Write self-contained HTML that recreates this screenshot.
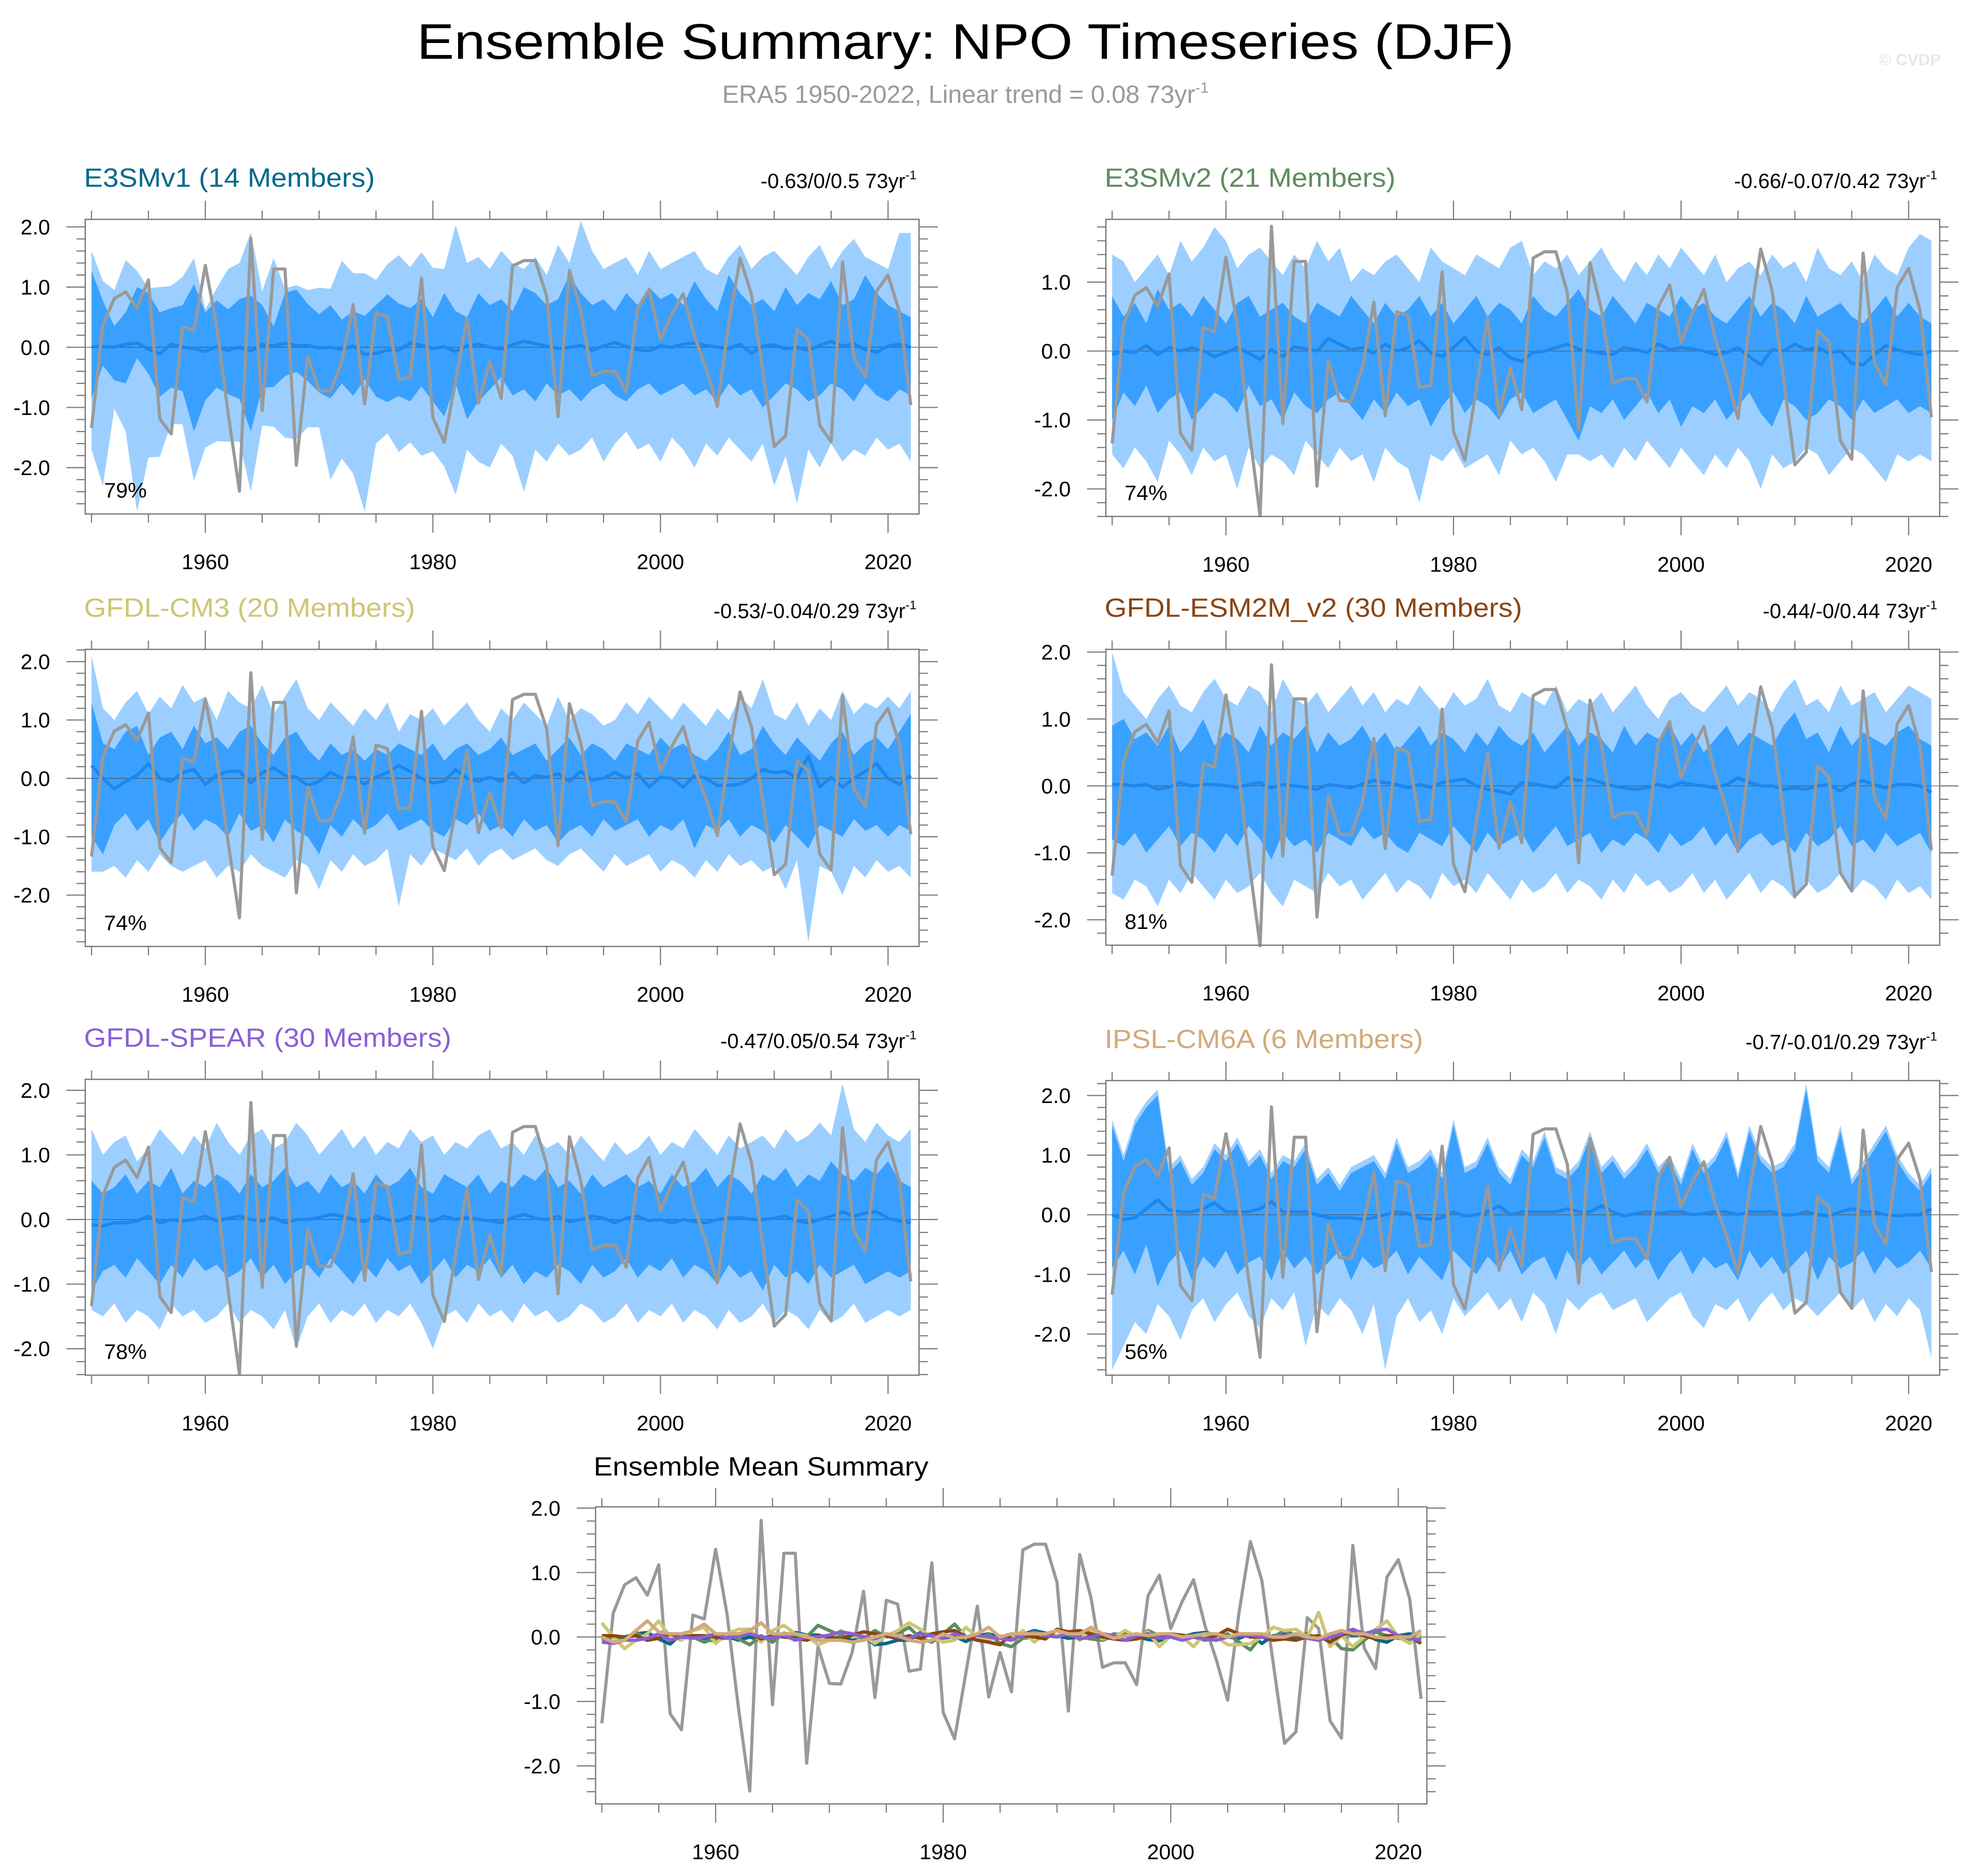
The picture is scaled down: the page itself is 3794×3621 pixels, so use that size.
<!DOCTYPE html>
<html><head><meta charset="utf-8"><style>
html,body{margin:0;padding:0;background:#fff}
svg{display:block}
text{font-family:"Liberation Sans",Arial,sans-serif}
</style></head><body>
<svg id="fig" xmlns="http://www.w3.org/2000/svg" width="3794" height="3621" viewBox="0 0 1568 1496.5">
<rect x="0" y="0" width="1568" height="1496.5" fill="#fff"/>
<text x="770" y="47" font-size="40" text-anchor="middle" textLength="875" lengthAdjust="spacingAndGlyphs">Ensemble Summary: NPO Timeseries (DJF)</text>
<text x="770" y="82" font-size="20" fill="#999" text-anchor="middle">ERA5 1950-2022, Linear trend = 0.08 73yr<tspan dy="-8" font-size="12">-1</tspan></text>
<text x="1548" y="52" font-size="13" fill="#e8e8e8" text-anchor="end" font-weight="bold">© CVDP</text>
<g id="plots"></g>
</svg>
<script>
const years = []; for (let y = 1950; y <= 2022; y++) years.push(y);
const era5 = [-1.34,0.37,0.81,0.92,0.65,1.12,-1.19,-1.44,0.34,0.28,1.36,0.36,-1.09,-2.39,1.81,-1.05,1.30,1.30,-1.96,-0.15,-0.72,-0.73,-0.24,0.71,-0.94,0.57,0.51,-0.53,-0.50,1.15,-1.17,-1.58,-0.55,0.48,-0.93,-0.24,-0.85,1.35,1.44,1.44,0.85,-1.15,1.28,0.60,-0.47,-0.40,-0.40,-0.74,0.64,0.96,0.13,0.55,0.89,0.18,-0.35,-0.98,0.38,1.48,0.88,-0.40,-1.65,-1.47,0.30,0.13,-1.30,-1.57,1.42,-0.17,-0.49,0.93,1.20,0.59,-0.96];

const e3v1Hi2 = [1.6,1.1,0.95,1.45,1.27,0.98,1.0,1.02,1.17,1.48,0.63,0.98,1.3,1.4,1.91,0.93,1.48,0.98,1.03,0.95,0.99,0.97,1.44,1.23,1.23,1.12,1.38,1.53,1.33,1.58,1.32,1.3,2.03,1.4,1.5,1.3,1.6,1.4,1.3,1.5,1.2,1.7,1.4,2.1,1.6,1.3,1.4,1.5,1.2,1.6,1.3,1.4,1.5,1.6,1.3,1.2,1.5,1.7,1.3,1.5,1.6,1.4,1.2,1.5,1.7,1.3,1.6,1.8,1.5,1.4,1.3,1.9,1.9];
const e3v1Hi1 = [1.27,0.77,0.35,0.58,1.0,0.9,0.58,0.65,0.7,1.05,0.58,0.78,0.63,0.8,0.86,0.7,0.35,0.9,0.96,0.72,0.55,0.7,0.46,0.6,0.52,0.7,0.88,0.73,0.65,0.8,0.5,0.9,0.6,0.5,0.9,0.7,0.8,0.6,1.0,0.9,0.7,0.8,1.2,0.9,0.7,0.8,0.6,0.9,0.7,1.0,0.8,0.9,0.7,1.1,0.8,0.6,1.2,0.9,0.7,0.8,0.6,1.0,0.7,0.9,0.8,1.1,0.7,0.8,1.2,0.9,0.7,0.6,0.5];
const e3v1Lo1 = [-0.85,-0.3,-0.55,-0.6,-0.18,-0.44,-0.82,-0.67,-0.73,-1.4,-0.88,-0.67,-0.78,-0.86,-1.4,-0.67,-0.66,-0.48,-0.41,-0.56,-0.75,-0.85,-0.6,-0.81,-0.53,-0.82,-0.91,-0.81,-0.9,-0.65,-0.9,-1.15,-0.6,-1.2,-0.9,-0.7,-0.5,-0.8,-0.7,-0.9,-0.6,-0.8,-0.7,-0.9,-0.7,-0.6,-0.8,-0.9,-0.7,-0.6,-0.8,-0.7,-0.6,-0.8,-0.7,-0.9,-0.6,-0.8,-0.7,-1.0,-0.8,-0.6,-0.7,-0.9,-0.8,-0.6,-0.7,-0.9,-0.6,-0.8,-0.9,-0.7,-0.8];
const e3v1Lo2 = [-1.7,-2.3,-1.02,-1.4,-2.73,-1.83,-1.82,-1.27,-1.28,-2.22,-1.67,-1.56,-1.57,-1.57,-2.4,-1.3,-1.32,-1.5,-1.53,-1.33,-1.33,-2.2,-1.85,-2.1,-2.73,-1.6,-1.43,-1.74,-1.58,-1.8,-1.73,-1.98,-2.45,-1.7,-1.9,-2.0,-1.6,-1.8,-2.4,-1.7,-1.9,-1.6,-1.8,-1.7,-1.5,-1.9,-1.6,-1.4,-1.7,-1.6,-1.9,-1.5,-1.7,-2.0,-1.6,-1.8,-1.5,-1.7,-1.9,-1.6,-2.3,-1.8,-2.6,-1.7,-2.0,-1.6,-1.9,-1.7,-1.8,-1.5,-1.7,-1.6,-1.9];
const e3v1Mean = [0.01,0.01,0.0,0.05,0.07,-0.03,-0.11,0.05,0.0,-0.02,-0.07,0.01,-0.05,0.0,-0.06,0.05,0.02,0.07,0.03,0.03,-0.01,0.0,-0.03,0.02,-0.12,-0.1,-0.05,-0.05,0.07,0.03,-0.02,0.01,-0.07,0.02,0.05,0.0,-0.03,0.04,0.1,0.06,0.02,-0.02,0.0,0.03,-0.05,0.02,0.08,0.01,-0.04,-0.06,0.02,0.0,0.05,0.07,0.03,0.0,-0.02,0.05,-0.1,0.02,0.04,-0.03,0.0,-0.05,0.03,0.1,0.02,0.06,-0.04,-0.08,0.02,0.05,0.0];

const e3v2Hi2 = [1.4,1.3,1.0,1.2,1.4,1.1,1.6,1.3,1.5,1.8,1.6,1.2,1.4,1.5,1.3,1.1,1.4,1.2,1.6,1.3,1.5,1.0,1.2,1.1,1.3,1.4,1.2,1.0,1.5,1.3,1.2,1.1,1.4,1.3,1.2,1.5,1.6,1.1,1.3,1.2,1.4,1.1,1.3,1.5,1.2,1.0,1.3,1.1,1.4,1.2,1.5,1.3,1.1,1.4,1.0,1.2,1.3,1.1,1.4,1.2,1.3,1.0,1.5,1.2,1.1,1.3,1.0,1.4,1.2,1.1,1.5,1.7,1.6];
const e3v2Hi1 = [0.8,0.5,0.7,0.4,0.9,0.6,0.7,0.5,0.8,0.6,0.4,0.7,0.8,0.5,0.6,0.7,0.5,0.4,0.7,0.6,0.5,0.8,0.6,0.4,0.7,0.5,0.6,0.8,0.5,0.7,0.4,0.6,0.8,0.5,0.7,0.6,0.4,0.8,0.6,0.5,0.7,0.9,0.6,0.5,0.8,0.6,0.4,0.7,0.6,0.5,0.8,0.6,0.7,0.5,0.4,0.6,0.8,0.5,0.7,0.6,0.4,0.8,0.5,0.6,0.7,0.5,0.4,0.6,0.8,0.5,0.7,0.5,0.4];
const e3v2Lo1 = [-1.0,-0.6,-0.8,-0.5,-0.9,-0.7,-0.6,-1.0,-0.8,-0.6,-0.7,-0.9,-0.5,-0.8,-0.7,-1.0,-0.6,-0.8,-0.9,-0.7,-0.6,-0.8,-1.0,-0.7,-0.9,-0.6,-0.8,-0.7,-1.1,-0.8,-0.6,-0.9,-0.7,-0.8,-1.0,-0.7,-0.6,-0.9,-0.8,-0.7,-1.0,-1.3,-0.8,-0.9,-0.7,-1.0,-0.8,-0.6,-0.9,-0.7,-1.1,-0.8,-0.9,-0.7,-1.0,-0.8,-0.6,-0.9,-1.1,-0.7,-0.8,-1.0,-0.9,-0.7,-0.8,-1.0,-0.7,-0.9,-0.8,-0.7,-0.9,-0.8,-0.9];
const e3v2Lo2 = [-1.5,-1.7,-1.4,-1.6,-1.9,-1.3,-1.5,-1.8,-1.4,-1.6,-1.5,-2.0,-1.4,-1.7,-1.5,-1.6,-1.8,-1.3,-1.5,-1.7,-1.4,-1.6,-1.5,-1.9,-1.4,-1.6,-1.7,-2.2,-1.5,-1.6,-1.4,-1.7,-1.6,-1.5,-1.8,-1.3,-1.5,-1.4,-1.6,-1.9,-1.5,-1.5,-1.6,-1.5,-1.7,-1.4,-1.6,-1.3,-1.5,-1.7,-1.4,-1.6,-1.8,-1.5,-1.7,-1.4,-1.6,-2.0,-1.5,-1.7,-1.6,-1.4,-1.5,-1.8,-1.6,-1.4,-1.5,-1.7,-1.9,-1.5,-1.6,-1.5,-1.6];
const e3v2Mean = [-0.05,0.0,-0.02,0.08,-0.05,0.05,0.0,0.05,0.0,-0.08,-0.02,0.05,-0.03,-0.12,0.02,-0.08,0.06,0.03,0.0,0.18,0.1,0.02,0.05,-0.03,0.1,0.0,0.05,0.15,-0.02,-0.08,0.05,0.2,0.0,-0.05,0.05,-0.1,-0.15,-0.02,0.0,0.05,0.1,0.03,0.0,-0.03,-0.05,0.05,0.02,-0.02,0.1,0.02,0.05,0.03,0.0,-0.05,-0.02,0.05,-0.08,-0.2,0.02,0.0,0.1,0.02,0.05,-0.03,0.0,-0.18,-0.2,-0.05,0.08,0.02,-0.02,-0.05,0.0];

const cm3Hi2 = [2.1,1.2,1.0,1.3,1.5,1.1,1.4,1.2,1.6,1.3,1.4,1.0,1.5,1.3,1.2,1.6,1.1,1.4,1.7,1.2,1.0,1.3,1.1,0.9,1.2,1.0,1.3,0.8,1.1,1.0,1.2,0.9,1.1,1.3,1.0,0.8,1.2,1.0,1.3,1.1,0.9,1.4,1.0,1.2,1.1,0.9,1.0,1.3,1.1,1.4,1.2,1.0,1.3,1.1,0.9,1.2,1.0,1.4,1.2,1.7,1.1,1.0,1.3,0.9,1.2,1.0,1.5,1.1,1.3,1.2,1.4,1.2,1.5];
const cm3Hi1 = [1.3,0.6,0.5,0.8,0.9,0.4,0.7,0.8,0.5,0.9,0.6,0.7,0.5,0.8,0.9,0.6,0.4,0.7,0.8,0.5,0.3,0.6,0.4,0.5,0.3,0.5,0.4,0.6,0.5,0.4,0.6,0.3,0.5,0.6,0.4,0.5,0.7,0.4,0.5,0.6,0.3,0.5,0.7,0.4,0.6,0.5,0.3,0.6,0.5,0.4,0.7,0.5,0.6,0.4,0.3,0.5,0.8,0.4,0.5,0.9,0.6,0.4,0.7,0.5,0.3,0.6,0.8,0.4,0.6,0.7,0.5,0.8,1.1];
const cm3Lo1 = [-1.0,-1.3,-0.8,-0.6,-0.9,-0.7,-1.1,-0.8,-0.6,-0.9,-0.7,-0.8,-1.0,-0.6,-0.9,-0.8,-1.1,-0.7,-0.9,-1.0,-1.3,-0.8,-1.0,-0.7,-0.9,-0.8,-0.6,-0.9,-0.8,-0.7,-0.9,-1.0,-0.7,-0.8,-0.6,-0.9,-0.8,-1.0,-0.7,-0.9,-0.8,-1.1,-0.9,-0.8,-1.0,-0.7,-0.9,-0.8,-0.7,-1.0,-0.8,-0.9,-0.7,-1.2,-0.8,-0.9,-0.7,-1.0,-0.8,-0.9,-1.1,-0.8,-1.0,-1.2,-0.8,-0.9,-1.0,-0.7,-0.9,-0.8,-1.0,-0.8,-0.9];
const cm3Lo2 = [-1.6,-1.6,-1.5,-1.7,-1.4,-1.6,-1.3,-1.5,-1.6,-1.5,-1.4,-1.7,-1.5,-1.6,-1.3,-1.5,-1.6,-1.7,-1.4,-1.5,-1.9,-1.4,-1.6,-1.3,-1.5,-1.4,-1.2,-2.2,-1.3,-1.5,-1.2,-1.3,-1.4,-1.2,-1.5,-1.3,-1.2,-1.4,-1.3,-1.2,-1.4,-1.5,-1.3,-1.2,-1.4,-1.6,-1.3,-1.5,-1.4,-1.3,-1.6,-1.4,-1.5,-1.7,-1.4,-1.6,-1.3,-1.5,-1.4,-1.6,-1.5,-1.9,-1.4,-2.8,-1.5,-1.6,-2.0,-1.5,-1.7,-1.4,-1.6,-1.5,-1.7];
const cm3Mean = [0.22,0.0,-0.18,-0.05,0.05,0.25,0.0,-0.05,0.1,0.15,-0.1,0.05,0.12,0.12,-0.08,0.1,0.18,0.05,0.02,-0.12,-0.05,0.1,0.0,0.02,-0.1,0.02,0.1,0.22,0.12,0.0,-0.08,-0.05,0.15,0.0,-0.05,0.02,-0.05,0.1,-0.08,0.05,0.02,0.08,-0.05,0.12,-0.03,0.0,0.1,0.0,0.08,-0.15,0.02,0.0,-0.15,0.05,0.0,-0.12,-0.12,-0.1,0.0,0.15,0.1,0.12,0.0,0.38,-0.15,0.02,-0.15,0.0,0.12,0.25,0.0,-0.1,0.05];

const esmHi2 = [2.0,1.4,1.2,1.0,1.3,1.5,1.2,1.1,1.4,1.6,1.3,1.2,1.5,1.4,1.1,1.6,1.3,1.2,1.4,1.1,1.3,1.5,1.2,1.4,1.1,1.3,1.2,1.5,1.3,1.1,1.4,1.2,1.3,1.6,1.2,1.1,1.4,1.3,1.2,1.5,1.1,1.3,1.2,1.4,1.1,1.3,1.5,1.2,1.0,1.3,1.4,1.2,1.1,1.3,1.5,1.2,1.4,1.3,1.1,1.4,1.6,1.2,1.3,1.1,1.5,1.2,1.3,1.4,1.1,1.3,1.5,1.4,1.3];
const esmHi1 = [0.9,1.0,0.7,0.8,0.6,0.9,0.5,0.7,1.0,0.6,0.8,0.7,0.5,0.9,0.6,0.8,0.7,0.9,0.5,0.8,0.6,0.7,0.9,0.6,0.8,0.5,0.7,0.9,0.6,0.8,0.7,0.5,0.8,0.6,0.9,0.7,0.6,0.8,0.5,0.7,0.9,0.6,0.8,0.7,0.5,0.9,0.6,0.8,0.7,0.9,0.6,0.8,0.5,0.7,0.9,0.6,0.8,0.7,0.6,0.9,1.1,0.7,0.8,0.5,0.9,0.6,0.8,0.7,0.6,0.8,0.9,0.7,0.6];
const esmLo1 = [-0.8,-0.9,-0.7,-1.0,-0.8,-0.6,-0.9,-0.7,-0.8,-1.0,-0.7,-0.9,-0.6,-0.8,-1.1,-0.7,-0.9,-0.8,-1.0,-0.7,-0.8,-0.9,-0.6,-0.8,-0.7,-0.9,-1.0,-0.7,-0.8,-0.9,-0.6,-0.8,-1.0,-0.7,-0.9,-0.8,-0.7,-1.0,-0.8,-0.6,-0.9,-0.8,-0.7,-1.0,-0.8,-0.9,-0.7,-0.8,-1.0,-0.7,-0.9,-0.8,-0.6,-0.9,-0.7,-1.0,-0.8,-0.7,-0.9,-0.8,-1.0,-0.7,-0.9,-0.8,-0.6,-0.9,-0.8,-1.0,-0.7,-0.9,-0.8,-0.7,-1.0];
const esmLo2 = [-1.6,-1.7,-1.4,-1.5,-1.8,-1.4,-1.6,-1.3,-1.5,-1.7,-1.4,-1.6,-1.5,-1.3,-1.6,-1.8,-1.4,-1.5,-1.6,-1.3,-1.5,-1.4,-1.7,-1.5,-1.3,-1.6,-1.4,-1.5,-1.7,-1.3,-1.5,-1.4,-1.6,-1.3,-1.5,-1.7,-1.4,-1.6,-1.5,-1.3,-1.6,-1.4,-1.5,-1.7,-1.4,-1.6,-1.3,-1.5,-1.4,-1.6,-1.5,-1.3,-1.6,-1.4,-1.7,-1.5,-1.3,-1.6,-1.4,-1.5,-1.7,-1.4,-1.6,-1.5,-1.3,-1.6,-1.4,-1.5,-1.7,-1.4,-1.6,-1.5,-1.7];
const esmMean = [0.02,0.02,0.0,0.02,-0.05,-0.02,0.05,0.0,0.02,0.02,0.0,-0.02,0.02,0.05,-0.03,0.02,0.0,-0.02,-0.05,0.02,0.0,-0.03,0.03,0.08,0.05,0.02,-0.03,0.02,-0.02,0.05,0.08,0.1,0.0,-0.05,-0.08,-0.12,0.05,0.03,0.0,-0.03,0.12,0.08,0.1,0.05,0.0,-0.03,-0.05,-0.03,0.02,-0.02,0.05,0.02,0.0,-0.03,0.02,0.12,0.05,0.0,0.0,-0.05,-0.03,-0.05,0.0,0.02,-0.08,0.03,0.08,0.02,-0.03,0.02,0.02,0.0,-0.1];

const spearHi2 = [1.4,1.0,1.2,1.3,0.9,1.1,1.4,1.2,1.0,1.3,1.1,1.5,1.2,1.0,1.3,1.4,1.1,1.2,1.5,1.3,1.0,1.2,1.4,1.1,1.3,1.0,1.2,1.1,1.4,1.2,1.3,1.0,1.2,1.1,1.3,1.4,1.1,1.2,1.0,1.3,1.1,1.2,1.0,1.3,1.1,0.9,1.2,1.0,1.1,1.3,1.0,1.2,1.1,1.4,1.2,1.0,1.3,1.1,1.2,1.3,1.1,1.4,1.2,1.3,1.5,1.3,2.1,1.4,1.2,1.5,1.3,1.2,1.4];
const spearHi1 = [0.6,0.4,0.5,0.7,0.4,0.6,0.5,0.8,0.4,0.6,0.5,0.7,0.6,0.4,0.7,0.5,0.6,0.8,0.5,0.6,0.4,0.7,0.5,0.6,0.4,0.7,0.5,0.6,0.8,0.5,0.4,0.7,0.6,0.5,0.7,0.4,0.6,0.5,0.7,0.6,0.8,0.5,0.6,0.4,0.7,0.5,0.6,0.7,0.5,0.6,0.4,0.7,0.5,0.6,0.8,0.5,0.7,0.6,0.4,0.7,0.6,0.8,0.5,0.7,0.6,0.9,0.7,0.6,0.8,0.7,0.9,0.6,0.5];
const spearLo1 = [-1.1,-0.8,-0.7,-0.9,-0.6,-0.8,-1.0,-0.7,-0.9,-0.6,-0.8,-0.7,-0.9,-0.8,-0.6,-0.9,-0.7,-1.0,-0.8,-0.7,-0.9,-0.6,-0.8,-1.0,-0.7,-0.9,-0.6,-0.8,-0.7,-1.0,-0.8,-0.6,-0.9,-0.7,-0.8,-0.6,-0.9,-0.7,-1.0,-0.8,-0.9,-0.7,-0.8,-1.0,-0.7,-0.9,-0.8,-0.6,-0.9,-0.7,-0.8,-0.6,-0.9,-0.7,-0.8,-1.0,-0.7,-0.9,-0.8,-1.1,-0.7,-0.9,-0.8,-1.0,-0.7,-0.9,-0.8,-0.7,-1.0,-0.9,-0.8,-0.9,-0.8];
const spearLo2 = [-1.4,-1.5,-1.3,-1.6,-1.4,-1.5,-1.7,-1.3,-1.5,-1.4,-1.6,-1.5,-1.3,-1.6,-1.4,-1.5,-1.7,-1.4,-2.0,-1.5,-1.3,-1.6,-1.4,-1.5,-1.3,-1.6,-1.4,-1.5,-1.3,-1.6,-2.0,-1.5,-1.4,-1.6,-1.3,-1.5,-1.4,-1.6,-1.3,-1.5,-1.4,-1.6,-1.5,-1.3,-1.4,-1.6,-1.5,-1.3,-1.6,-1.4,-1.5,-1.3,-1.6,-1.4,-1.5,-1.7,-1.4,-1.6,-1.5,-1.3,-1.6,-1.4,-1.5,-1.7,-1.4,-1.6,-1.5,-1.3,-1.6,-1.5,-1.4,-1.5,-1.4];
const spearMean = [-0.08,-0.1,-0.05,-0.05,-0.02,0.05,-0.05,0.0,-0.02,0.0,0.05,-0.02,0.02,0.05,0.0,-0.02,0.03,-0.05,0.0,0.0,0.03,0.08,0.05,0.0,-0.03,0.05,0.0,-0.02,0.05,0.02,-0.02,0.05,0.0,0.03,0.0,-0.02,-0.05,0.03,0.08,0.02,0.0,0.05,-0.03,0.0,0.05,0.02,-0.05,0.02,0.05,-0.02,0.0,-0.05,0.0,-0.03,-0.05,0.0,0.02,0.03,0.0,0.0,0.02,0.05,-0.02,-0.05,0.0,0.05,0.12,0.05,0.1,0.12,0.02,-0.02,-0.05];

const ipslHi2 = [1.6,1.0,1.6,1.9,2.1,0.8,1.0,0.6,0.8,1.2,1.0,1.3,0.9,1.1,0.7,1.0,0.9,1.2,0.6,0.8,0.5,0.8,0.9,1.0,0.7,1.3,0.8,0.9,1.1,0.7,1.6,0.8,0.9,1.3,0.8,0.6,1.1,0.9,1.4,0.8,0.7,0.9,1.4,0.8,1.0,0.7,0.9,1.2,0.8,1.0,0.6,1.2,0.8,1.0,1.4,0.7,1.5,1.0,0.8,0.9,1.2,2.2,1.0,0.8,1.5,0.6,0.9,1.2,1.5,1.0,0.7,0.5,0.8];
const ipslHi1 = [1.5,0.9,1.5,1.8,2.0,0.7,0.9,0.5,0.7,1.1,0.9,1.2,0.8,1.0,0.6,0.9,0.8,1.1,0.5,0.7,0.4,0.7,0.8,0.9,0.6,1.2,0.7,0.8,1.0,0.6,1.5,0.7,0.8,1.2,0.7,0.5,1.0,0.8,1.3,0.7,0.6,0.8,1.3,0.7,0.9,0.6,0.8,1.1,0.7,0.9,0.5,1.1,0.7,0.9,1.3,0.6,1.4,0.9,0.7,0.8,1.1,2.1,0.9,0.7,1.4,0.5,0.8,1.1,1.4,0.9,0.6,0.4,0.7];
const ipslLo1 = [-0.9,-0.6,-1.0,-0.5,-1.2,-0.8,-0.6,-1.1,-0.7,-0.9,-0.6,-1.0,-0.8,-0.7,-1.1,-0.6,-0.9,-0.7,-1.0,-0.8,-0.6,-1.1,-0.7,-0.9,-0.8,-0.6,-1.0,-0.7,-0.9,-1.1,-0.6,-0.8,-1.0,-0.7,-0.9,-0.6,-1.0,-0.8,-0.7,-1.1,-0.6,-0.9,-0.7,-1.0,-0.8,-0.6,-0.9,-0.7,-1.1,-0.8,-0.6,-1.0,-0.7,-0.9,-0.8,-1.1,-0.6,-0.9,-0.7,-1.0,-0.8,-0.6,-1.1,-0.7,-0.9,-0.8,-0.6,-1.0,-0.7,-0.9,-0.8,-0.6,-0.9];
const ipslLo2 = [-2.6,-2.2,-1.8,-2.0,-1.5,-1.7,-2.1,-1.6,-1.4,-1.8,-1.5,-1.3,-1.7,-1.9,-1.4,-1.6,-1.3,-2.2,-1.5,-1.7,-1.4,-1.6,-2.0,-1.5,-2.6,-1.7,-1.4,-1.8,-1.6,-2.0,-1.4,-1.7,-1.5,-1.3,-1.6,-1.4,-1.8,-1.3,-1.5,-2.0,-1.4,-1.6,-1.4,-1.3,-1.6,-1.5,-1.4,-1.8,-1.6,-1.4,-1.3,-1.7,-1.9,-1.5,-1.6,-1.4,-1.8,-1.5,-1.3,-1.6,-1.4,-1.5,-1.7,-1.5,-1.3,-1.6,-1.4,-1.8,-1.5,-1.7,-1.4,-1.6,-2.4];
const ipslMean = [0.0,-0.08,-0.05,0.1,0.25,0.08,0.05,0.05,0.1,0.2,0.05,0.05,0.05,0.1,0.22,0.05,0.05,0.05,0.0,-0.05,-0.05,-0.05,-0.08,-0.05,0.0,0.05,0.02,-0.05,-0.08,-0.05,0.05,-0.02,0.0,0.05,0.15,0.0,0.05,0.05,0.05,0.05,0.1,0.05,0.05,0.15,0.05,-0.02,0.02,0.05,0.02,0.05,0.05,0.0,0.02,0.05,0.05,0.0,0.05,0.05,0.05,0.0,0.0,0.05,0.0,-0.02,0.05,0.1,0.05,0.05,0.0,-0.02,0.0,0.0,0.1];

const yTickLabels = ["-2.0","-1.0","0.0","1.0","2.0"];
const yTickValues = [-2,-1,0,1,2];
const xTickYears = [1960,1980,2000,2020];

const NS = "http://www.w3.org/2000/svg";
const root = document.getElementById("plots");
function mk(tag, attrs, parent) {
  const e = document.createElementNS(NS, tag);
  for (const k in attrs) e.setAttribute(k, attrs[k]);
  (parent || root).appendChild(e);
  return e;
}

function axes(x0, y0, x1, y1, ymin, ymax) {
  const sx = yr => x0 + 5 + (yr - 1950) * 9.075;
  const sy = v => y1 - (v - ymin) / (ymax - ymin) * (y1 - y0);
  return { sx, sy };
}

function drawFrame(g, x0, y0, x1, y1, ymin, ymax, A) {
  const tk = mk("g", { stroke: "#777", "stroke-width": 0.9 }, g);
  
  
  for (let yr = 1950; yr <= 2022; yr += 5) {
    const x = A.sx(yr), maj = yr % 20 === 0;
    const L = maj ? 15 : 7;
    mk("line", { x1: x, y1: y0, x2: x, y2: y0 - L }, tk);
    mk("line", { x1: x, y1: y1, x2: x, y2: y1 + L }, tk);
  }
  for (let v = Math.ceil(ymin * 5) / 5; v <= ymax + 1e-6; v += 0.2) {
    const vv = Math.round(v * 10) / 10;
    const maj = Math.abs(vv - Math.round(vv)) < 1e-6;
    const L = maj ? 15 : 7, y = A.sy(vv);
    mk("line", { x1: x0, y1: y, x2: x0 - L, y2: y }, tk);
    mk("line", { x1: x1, y1: y, x2: x1 + L, y2: y }, tk);
  }
  const fr = mk("rect", { x: x0, y: y0, width: x1 - x0, height: y1 - y0, fill: "none", stroke: "#777", "stroke-width": 1 }, g);
  
  
  yTickValues.forEach((v, i) => {
    if (v < ymin || v > ymax) return;
    const t = mk("text", { x: x0 - 28, y: A.sy(v) + 6, "font-size": 17, "text-anchor": "end" }, g);
    
    
    t.textContent = yTickLabels[i];
  });
  xTickYears.forEach(yr => {
    const t = mk("text", { x: A.sx(yr), y: y1 + 44, "font-size": 17, "text-anchor": "middle" }, g);
    
    
    t.textContent = yr;
  });
}

function linePath(A, arr) {
  const n = Math.min(arr.length, years.length);
  let d = "";
  for (let i = 0; i < n; i++) d += (i ? "L" : "M") + A.sx(years[i]).toFixed(2) + "," + A.sy(arr[i]).toFixed(2);
  return d;
}
function bandPath(A, hi, lo) {
  const n = Math.min(hi.length, lo.length, years.length);
  let d = "";
  for (let i = 0; i < n; i++) d += (i ? "L" : "M") + A.sx(years[i]).toFixed(2) + "," + A.sy(hi[i]).toFixed(2);
  for (let i = n - 1; i >= 0; i--) d += "L" + A.sx(years[i]).toFixed(2) + "," + A.sy(lo[i]).toFixed(2);
  return d + "Z";
}

const panels = [
  { name: "e3smv1", title: "E3SMv1 (14 Members)", color: "#00688B", tw: 232, stat: "-0.63/0/0.5 73yr", pct: "79%", x0: 68, y0: 175, x1: 733, y1: 410, ymin: -2.77, ymax: 2.125, hi2: e3v1Hi2, hi1: e3v1Hi1, lo1: e3v1Lo1, lo2: e3v1Lo2, mean: e3v1Mean },
  { name: "e3smv2", title: "E3SMv2 (21 Members)", color: "#5F8B5F", tw: 232, stat: "-0.66/-0.07/0.42 73yr", pct: "74%", x0: 882, y0: 175, x1: 1547, y1: 412, ymin: -2.4, ymax: 1.91, hi2: e3v2Hi2, hi1: e3v2Hi1, lo1: e3v2Lo1, lo2: e3v2Lo2, mean: e3v2Mean },
  { name: "gfdl-cm3", title: "GFDL-CM3 (20 Members)", color: "#CDC673", tw: 264, stat: "-0.53/-0.04/0.29 73yr", pct: "74%", x0: 68, y0: 518, x1: 733, y1: 755, ymin: -2.88, ymax: 2.21, hi2: cm3Hi2, hi1: cm3Hi1, lo1: cm3Lo1, lo2: cm3Lo2, mean: cm3Mean },
  { name: "gfdl-esm2m", title: "GFDL-ESM2M_v2 (30 Members)", color: "#8B4513", tw: 333, stat: "-0.44/-0/0.44 73yr", pct: "81%", x0: 882, y0: 518, x1: 1547, y1: 754, ymin: -2.38, ymax: 2.04, hi2: esmHi2, hi1: esmHi1, lo1: esmLo1, lo2: esmLo2, mean: esmMean },
  { name: "gfdl-spear", title: "GFDL-SPEAR (30 Members)", color: "#8A5FD6", tw: 293, stat: "-0.47/0.05/0.54 73yr", pct: "78%", x0: 68, y0: 861, x1: 733, y1: 1097, ymin: -2.41, ymax: 2.17, hi2: spearHi2, hi1: spearHi1, lo1: spearLo1, lo2: spearLo2, mean: spearMean },
  { name: "ipsl-cm6a", title: "IPSL-CM6A (6 Members)", color: "#D2AA7A", tw: 254, stat: "-0.7/-0.01/0.29 73yr", pct: "56%", x0: 882, y0: 862, x1: 1547, y1: 1097, ymin: -2.69, ymax: 2.25, hi2: ipslHi2, hi1: ipslHi1, lo1: ipslLo1, lo2: ipslLo2, mean: ipslMean }
];

panels.forEach(p => {
  const g = mk("g", {});
  
  
  const A = axes(p.x0, p.y0, p.x1, p.y1, p.ymin, p.ymax);
  const lb = mk("path", { d: bandPath(A, p.hi2, p.lo2), fill: "#9ccfff" }, g);
  
  
  const db = mk("path", { d: bandPath(A, p.hi1, p.lo1), fill: "#3aa0ff" }, g);
  
  
  const zl = mk("line", { x1: p.x0, x2: p.x1, y1: A.sy(0), y2: A.sy(0), stroke: "#555", "stroke-width": 0.5 }, g);
  
  
  const ml = mk("path", { d: linePath(A, p.mean), fill: "none", stroke: "#1f86ea", "stroke-width": 2.6, "stroke-linejoin": "round" }, g);
  
  
  const ol = mk("path", { d: linePath(A, era5), fill: "none", stroke: "#999", "stroke-width": 2.5, "stroke-linejoin": "round" }, g);
  
  
  drawFrame(g, p.x0, p.y0, p.x1, p.y1, p.ymin, p.ymax, A);
  const t = mk("text", { x: p.x0 - 1, y: p.y0 - 26, "font-size": 21, fill: p.color, textLength: p.tw, lengthAdjust: "spacingAndGlyphs" }, g);
  
  
  t.textContent = p.title;
  const s = mk("text", { x: p.x1 - 2, y: p.y0 - 25, "font-size": 16.5, "text-anchor": "end" }, g);
  
  
  s.textContent = p.stat;
  const sup = mk("tspan", { dy: -7, "font-size": 10 }, s);
  sup.textContent = "-1";
  const pc = mk("text", { x: p.x0 + 15, y: p.y1 - 13, "font-size": 17 }, g);
  
  
  pc.textContent = p.pct;
});

(function () {
  const x0 = 475, y0 = 1202, x1 = 1138, y1 = 1439, ymin = -2.59, ymax = 2.02;
  const g = mk("g", {});
  
  
  const A = axes(x0, y0, x1, y1, ymin, ymax);
  const zl = mk("line", { x1: x0, x2: x1, y1: A.sy(0), y2: A.sy(0), stroke: "#777", "stroke-width": 0.8 }, g);
  
  
  const ol = mk("path", { d: linePath(A, era5), fill: "none", stroke: "#999", "stroke-width": 2.5, "stroke-linejoin": "round" }, g);
  
  
  panels.forEach(p => {
    const l = mk("path", { d: linePath(A, p.mean), fill: "none", stroke: p.color, "stroke-width": 2.7, "stroke-linejoin": "round" }, g);
    
    
  });
  drawFrame(g, x0, y0, x1, y1, ymin, ymax, A);
  const t = mk("text", { x: 607, y: 1177, "font-size": 21, "text-anchor": "middle", textLength: 267, lengthAdjust: "spacingAndGlyphs" }, g);
  
  
  t.textContent = "Ensemble Mean Summary";
})();
</script>
</body></html>
